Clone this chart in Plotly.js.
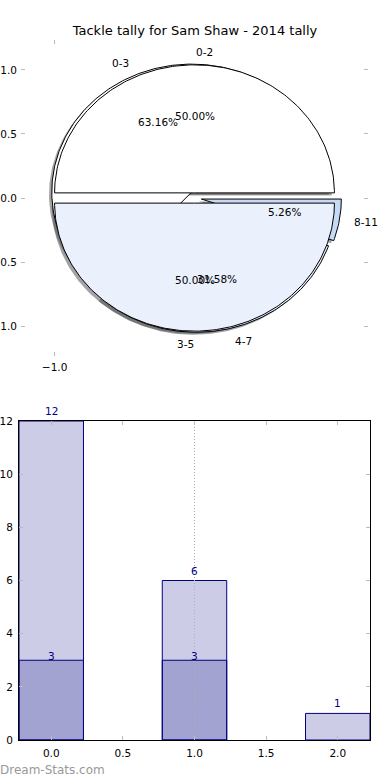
<!DOCTYPE html>
<html><head><meta charset="utf-8">
<script src="https://cdn.plot.ly/plotly-3.0.1.min.js"></script>
<style>html,body{margin:0;padding:0;background:#fff;} #chart{width:390px;height:780px;}</style>
</head><body><div id="chart"></div>
<script>
// ---- data ----
const titleText = 'Tackle tally for Sam Shaw - 2014 tally';
const innerLabels = ['0-2', '3-5'];
const innerValues = [3, 3];
const innerColors = ['#ffffff', '#eaf1fd'];
const innerExplode = [0.04, 0.04];
const outerLabels = ['0-3', '4-7', '8-11'];
const outerValues = [12, 6, 1];
const outerColors = ['#ffffff', '#eaf1fd', '#c6daf6'];
const outerExplode = [0.05, 0.05, 0.05];
const barX = [0, 1, 2];
const totalCounts = [12, 6, 1];
const subX = [0, 1];
const subCounts = [3, 3];
const watermark = 'Dream-Stats.com';

// ---- pie geometry (matplotlib style: start 0°, counter-clockwise) ----
function pieParts(values, explode) {
  const sum = values.reduce((a, b) => a + b, 0);
  let acc = 0; const parts = [];
  values.forEach((v, i) => {
    const t1 = acc / sum * 360; acc += v; const t2 = acc / sum * 360;
    const tm = (t1 + t2) / 2 * Math.PI / 180;
    const cx = explode[i] * Math.cos(tm), cy = explode[i] * Math.sin(tm);
    const xs = [cx], ys = [cy];
    const n = Math.max(4, Math.ceil(t2 - t1));
    for (let k = 0; k <= n; k++) {
      const a = (t1 + (t2 - t1) * k / n) * Math.PI / 180;
      xs.push(cx + Math.cos(a)); ys.push(cy + Math.sin(a));
    }
    xs.push(cx); ys.push(cy);
    parts.push({xs, ys, cx, cy, tm, frac: v / sum});
  });
  return parts;
}
function shadowColor(hex) {
  const r = parseInt(hex.slice(1,3),16), g = parseInt(hex.slice(3,5),16), b = parseInt(hex.slice(5,7),16);
  return 'rgba(' + Math.round(r*0.3) + ',' + Math.round(g*0.3) + ',' + Math.round(b*0.3) + ',0.5)';
}
const inner = pieParts(innerValues, innerExplode);
const outer = pieParts(outerValues, outerExplode);

const traces = [];
const annotations = [];
const FONT = 'DejaVu Sans, Verdana, sans-serif';

// shadows
[[outer, outerColors], [inner, innerColors]].forEach(([parts, cols]) => {
  parts.forEach((p, i) => {
    traces.push({type: 'scatter', mode: 'lines', xaxis: 'x', yaxis: 'y',
      x: p.xs.map(v => v - 0.02), y: p.ys.map(v => v - 0.02),
      fill: 'toself', fillcolor: shadowColor(cols[i]), line: {width: 0, color: 'rgba(0,0,0,0)'},
      hoverinfo: 'skip'});
  });
});
// wedges
[[outer, outerColors], [inner, innerColors]].forEach(([parts, cols]) => {
  parts.forEach((p, i) => {
    traces.push({type: 'scatter', mode: 'lines', xaxis: 'x', yaxis: 'y',
      x: p.xs, y: p.ys, fill: 'toself', fillcolor: cols[i],
      line: {width: 1, color: '#000000'}, hoverinfo: 'skip'});
  });
});
// pie texts
[[outer, outerLabels], [inner, innerLabels]].forEach(([parts, labs]) => {
  parts.forEach((p, i) => {
    const lx = p.cx + 1.1 * Math.cos(p.tm), ly = p.cy + 1.1 * Math.sin(p.tm);
    annotations.push({xref: 'x', yref: 'y', x: lx, y: ly, text: labs[i], showarrow: false,
      xanchor: lx > 0 ? 'left' : 'right', yanchor: 'middle', borderpad: 0,
      font: {family: FONT, size: 10.5, color: '#000'}});
    const px = p.cx + 0.6 * Math.cos(p.tm), py = p.cy + 0.6 * Math.sin(p.tm);
    annotations.push({xref: 'x', yref: 'y', x: px, y: py, text: (p.frac * 100).toFixed(2) + '%',
      showarrow: false, xanchor: 'center', yanchor: 'middle', borderpad: 0,
      font: {family: FONT, size: 10.5, color: '#000'}});
  });
});

// bars
traces.push({type: 'bar', x: barX, y: totalCounts, width: 0.45, xaxis: 'x2', yaxis: 'y2',
  marker: {color: 'rgba(0,0,128,0.2)', line: {color: '#000080', width: 1}}, hoverinfo: 'skip'});
traces.push({type: 'bar', x: subX, y: subCounts, width: 0.45, xaxis: 'x2', yaxis: 'y2',
  marker: {color: 'rgba(0,0,128,0.2)', line: {color: '#000080', width: 1}}, hoverinfo: 'skip'});
traces.push({type: 'scatter', mode: 'lines', xaxis: 'x2', yaxis: 'y2',
  x: [barX[1], barX[1]], y: [0, Math.max(...totalCounts)],
  line: {color: '#b0b0b0', width: 1, dash: '1px,2px'}, hoverinfo: 'skip'});

barX.forEach((x, i) => annotations.push({xref: 'x2', yref: 'y2', x: x, y: totalCounts[i], text: String(totalCounts[i]),
  showarrow: false, xanchor: 'center', yanchor: 'bottom', yshift: 3, borderpad: 0,
  font: {family: FONT, size: 10.5, color: '#000080'}}));
subX.forEach((x, i) => annotations.push({xref: 'x2', yref: 'y2', x: x, y: subCounts[i], text: String(subCounts[i]),
  showarrow: false, xanchor: 'center', yanchor: 'bottom', yshift: -3, borderpad: 0,
  font: {family: FONT, size: 10.5, color: '#000080'}}));

annotations.push({xref: 'paper', yref: 'paper', x: 0, y: 1 - 770/780, xanchor: 'left', yanchor: 'middle',
  xshift: -1, text: watermark, showarrow: false, borderpad: 0,
  font: {family: FONT, size: 12, color: '#999999'}});

const tickCommon = {ticks: 'inside', ticklen: 4, tickwidth: 1, tickcolor: '#bbbbbb', showgrid: false,
  zeroline: false, fixedrange: true, ticklabelstandoff: 3,
  tickfont: {family: FONT, size: 10.5, color: '#000'}};

const layout = {
  width: 390, height: 780, margin: {l: 0, r: 0, t: 0, b: 0},
  paper_bgcolor: '#ffffff', plot_bgcolor: 'rgba(0,0,0,0)', showlegend: false,
  font: {family: FONT, size: 10.5, color: '#000'},
  title: {text: titleText, x: 0.5, xanchor: 'center', y: 1 - 30/780, yanchor: 'middle',
    font: {family: FONT, size: 13, color: '#000'}},
  barmode: 'overlay',
  xaxis: Object.assign({}, tickCommon, {domain: [21/390, 368/390], range: [-1.24, 1.24], anchor: 'y',
    tickvals: [-1], tickformat: '.1f', showline: false, mirror: 'ticks'}),
  yaxis: Object.assign({}, tickCommon, {domain: [1 - 356/780, 1 - 40/780], range: [-1.234, 1.234], anchor: 'x',
    tickvals: [-1, -0.5, 0, 0.5, 1], tickformat: '.1f', showline: false, mirror: 'ticks'}),
  xaxis2: Object.assign({}, tickCommon, {domain: [19/390, 370/390], range: [-0.225, 2.225], anchor: 'y2',
    tickvals: [0, 0.5, 1, 1.5, 2], tickformat: '.1f', showline: true, linecolor: '#000', linewidth: 1, mirror: 'ticks'}),
  yaxis2: Object.assign({}, tickCommon, {domain: [1 - 740/780, 1 - 421/780], range: [0, 12], anchor: 'x2',
    tickvals: [0, 2, 4, 6, 8, 10, 12], showline: true, linecolor: '#000', linewidth: 1, mirror: 'ticks'}),
  annotations: annotations
};

Plotly.newPlot('chart', traces, layout, {staticPlot: true, displayModeBar: false});
</script>
</body></html>
